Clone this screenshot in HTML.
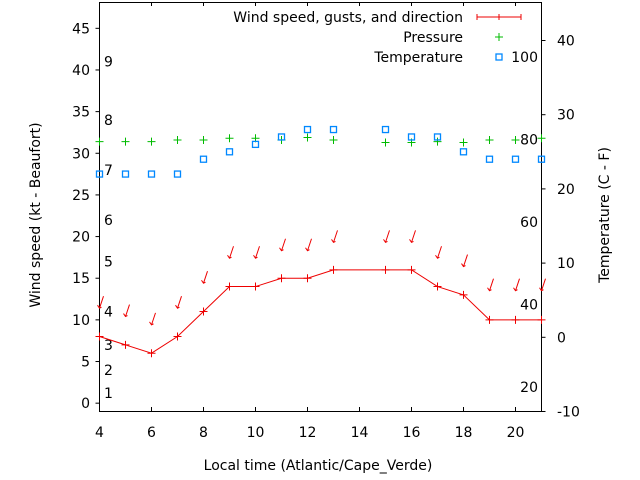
<!DOCTYPE html>
<html><head><meta charset="utf-8"><style>
body{margin:0;background:#fff}
svg{display:block;font-family:"DejaVu Sans","Liberation Sans",sans-serif;font-size:14px}
</style></head><body>
<svg id="c" width="640" height="480" xmlns="http://www.w3.org/2000/svg">
<g id="grid"></g>
<rect x="99.5" y="2.5" width="442" height="409" fill="none" stroke="#000"/>
<text x="0" y="0" transform="translate(40,215) rotate(-90)" text-anchor="middle">Wind speed (kt - Beaufort)</text>
<text x="0" y="0" transform="translate(609,215) rotate(-90)" text-anchor="middle">Temperature (C - F)</text>
<text x="318" y="470" text-anchor="middle">Local time (Atlantic/Cape_Verde)</text>
<g>
<text x="463" y="22" text-anchor="end">Wind speed, gusts, and direction</text>
<path d="M477 17H521M477 14V20M499 14V20M521 14V20" stroke="#e00"/>
<text x="463" y="42" text-anchor="end">Pressure</text>
<path d="M495 37H503M499 33V41" stroke="#0b0"/>
<text x="463" y="62" text-anchor="end">Temperature</text>
<rect x="496" y="54" width="6" height="6" fill="none" stroke="#08f" stroke-width="1.3"/>
</g>
<g id="marks"></g>
</svg>
<script>
const hours=[4,5,6,7,8,9,10,11,12,13,15,16,17,18,19,20,21];
const wind=[8,7,6,8,11,14,14,15,15,16,16,16,14,13,10,10,10];
const gust=[11.4,10.4,9.4,11.4,14.4,17.4,17.4,18.3,18.3,19.3,19.3,19.3,17.4,16.4,13.5,13.5,13.5];
const pressure=[31.4,31.4,31.4,31.6,31.6,31.8,31.8,31.6,31.9,31.6,31.3,31.3,31.4,31.3,31.6,31.6,31.8];
const temp=[22,22,22,22,24,25,26,27,28,28,28,27,27,25,24,24,24];
const xTicks=[4,6,8,10,12,14,16,18,20];
const yTicks=[0,5,10,15,20,25,30,35,40,45];
const y2Ticks=[-10,0,10,20,30,40];
const beaufort=[[1,1.2],[2,4],[3,7],[4,11],[5,17],[6,22],[7,28],[8,34],[9,41]];
const fahrenheit=[20,40,60,80,100];
const X=v=>99.5+(v-4)*26;
const Y=v=>411.5-(v+1)*8.33;
const Y2=v=>411.5-(v+10)*7.42;
const NS="http://www.w3.org/2000/svg";
const g=document.getElementById('grid'),m=document.getElementById('marks');
function el(t,a,p,txt){const e=document.createElementNS(NS,t);for(const k in a)e.setAttribute(k,a[k]);if(txt!==undefined)e.textContent=txt;p.appendChild(e);return e;}
xTicks.forEach(v=>{
 const t=el('text',{x:X(v),y:437,'text-anchor':'middle'},g,v);
 
 
 el('path',{d:`M${X(v)} 411V407M${X(v)} 2V6`,stroke:'#000'},g);
});
yTicks.forEach(v=>{
 const t=el('text',{x:90,y:Y(v)+5,'text-anchor':'end'},g,v);
 
 
 el('path',{d:`M95.5 ${Y(v)}H99.5`,stroke:'#000'},g);
});
y2Ticks.forEach(v=>{
 const t=el('text',{x:557,y:Y2(v)+5},g,v);
 
 
 el('path',{d:`M541.5 ${Y2(v)}H545.5`,stroke:'#000'},g);
});
beaufort.forEach(b=>{
 const t=el('text',{x:104,y:Y(b[1])+5},g,b[0]);
 
 
});
fahrenheit.forEach(f=>{
 const c=(f-32)*5/9;
 const t=el('text',{x:538,y:Y2(c)+5,'text-anchor':'end'},g,f);
 
 
});
const wl=el('polyline',{points:hours.map((h,i)=>X(h)+','+Y(wind[i])).join(' '),fill:'none',stroke:'#e00'},m);


hours.forEach((h,i)=>{
 const x=X(h);
 const p=el('path',{d:`M${x-4} ${Y(wind[i])}H${x+4}M${x} ${Y(wind[i])-4}V${Y(wind[i])+4}`,stroke:'#e00'},m);
 
 
 const gy=Y(gust[i]);
 const a=el('path',{d:`M${x+4} ${gy-12}L${x} ${gy}M${x-2} ${gy-3}L${x} ${gy}L${x+2} ${gy-1}`,stroke:'#e00',fill:'none'},m);
 
 
 const py=Y(pressure[i]);
 const q=el('path',{d:`M${x-4} ${py}H${x+4}M${x} ${py-4}V${py+4}`,stroke:'#0b0'},m);
 
 
 const ty=Y2(temp[i]);
 const r=el('rect',{x:x-3,y:ty-3,width:6,height:6,fill:'none',stroke:'#08f','stroke-width':1.3},m);
 
 
});
</script>
</body></html>
